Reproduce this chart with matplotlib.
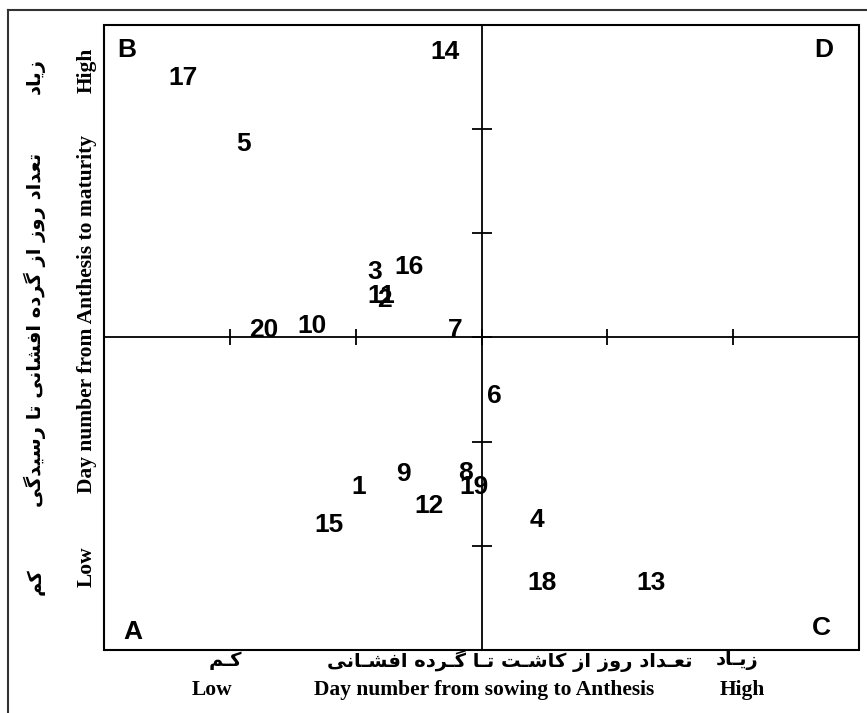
import matplotlib
matplotlib.use("Agg")
import matplotlib.pyplot as plt
from matplotlib.patches import Rectangle
from matplotlib.lines import Line2D

# genotype numbers and their scores (x: sowing->anthesis, y: anthesis->maturity)
genotypes = ["17", "5", "14", "3", "16", "11", "2", "20", "10", "7",
             "6", "9", "8", "19", "1", "12", "15", "4", "18", "13"]
x_vals = [-2.37, -1.89, -0.29, -0.85, -0.58, -0.80, -0.77, -1.73, -1.35, -0.21,
          0.10, -0.62, -0.13, -0.06, -0.98, -0.42, -1.21, 0.44, 0.48, 1.35]
y_vals = [2.49, 1.86, 2.74, 0.63, 0.68, 0.40, 0.36, 0.07, 0.11, 0.07,
          -0.56, -1.31, -1.30, -1.44, -1.44, -1.62, -1.80, -1.75, -2.36, -2.36]

quadrants = ["B", "D", "A", "C"]
quad_x = [-2.82, 2.72, -2.77, 2.70]
quad_y = [2.76, 2.76, -2.83, -2.79]

tick_pos = [-2, -1, 0, 1, 2]

# persian letter forms: isolated, final, initial, medial (None = no left join)
FORMS = {
    "\u0627": ("\uFE8D", "\uFE8E", None, None),
    "\u062A": ("\uFE95", "\uFE96", "\uFE97", "\uFE98"),
    "\u0639": ("\uFEC9", "\uFECA", "\uFECB", "\uFECC"),
    "\u062F": ("\uFEA9", "\uFEAA", None, None),
    "\u0631": ("\uFEAD", "\uFEAE", None, None),
    "\u0632": ("\uFEAF", "\uFEB0", None, None),
    "\u0648": ("\uFEED", "\uFEEE", None, None),
    "\u0633": ("\uFEB1", "\uFEB2", "\uFEB3", "\uFEB4"),
    "\u0634": ("\uFEB5", "\uFEB6", "\uFEB7", "\uFEB8"),
    "\u0641": ("\uFED1", "\uFED2", "\uFED3", "\uFED4"),
    "\u0646": ("\uFEE5", "\uFEE6", "\uFEE7", "\uFEE8"),
    "\u0645": ("\uFEE1", "\uFEE2", "\uFEE3", "\uFEE4"),
    "\u0647": ("\uFEE9", "\uFEEA", "\uFEEB", "\uFEEC"),
    "\u06A9": ("\uFB8E", "\uFB8F", "\uFB90", "\uFB91"),
    "\u06AF": ("\uFB92", "\uFB93", "\uFB94", "\uFB95"),
    "\u06CC": ("\uFBFC", "\uFBFD", "\uFBFE", "\uFBFF"),
    "\u0640": ("\u0640", "\u0640", "\u0640", "\u0640"),
}


def joins_left(ch):
    return ch in FORMS and FORMS[ch][2] is not None


def shape(s):
    out = []
    for i, ch in enumerate(s):
        if ch not in FORMS:
            out.append(ch)
            continue
        prev = s[i - 1] if i > 0 else ""
        nxt = s[i + 1] if i + 1 < len(s) else ""
        p = joins_left(prev)
        n = joins_left(ch) and nxt in FORMS
        iso, fin, ini, med = FORMS[ch]
        if p and n:
            out.append(med)
        elif p:
            out.append(fin)
        elif n:
            out.append(ini)
        else:
            out.append(iso)
    return "".join(reversed(out))


fa_x_low = shape("کـم")
fa_x_mid = shape("تعـداد روز از کاشـت تـا گـرده افشـانی")
fa_x_high = shape("زیـاد")
fa_y_low = shape("کم")
fa_y_mid = shape("تعداد روز از گرده افشانی تا رسیدگی")
fa_y_high = shape("زیاد")

fig = plt.figure(figsize=(8.67, 7.13), dpi=100)
ax = fig.add_axes([0.120, 0.0884, 0.871, 0.8766])
ax.set_xlim(-3, 3)
ax.set_ylim(-3, 3)

# axes through the origin
ax.spines["left"].set_position(("data", 0))
ax.spines["bottom"].set_position(("data", 0))
ax.spines["top"].set_visible(False)
ax.spines["right"].set_visible(False)
for sp in ("left", "bottom"):
    ax.spines[sp].set_linewidth(1.3)
ax.set_xticks(tick_pos)
ax.set_yticks(tick_pos)
ax.set_xticklabels([])
ax.set_yticklabels([])
ax.tick_params(axis="x", direction="inout", length=12, width=1.3)
ax.tick_params(axis="y", direction="inout", length=15, width=1.3)

# box around plot
ax.add_patch(Rectangle((0, 0), 1, 1, transform=ax.transAxes, fill=False,
                       lw=1.5, ec="black", clip_on=False))

num_font = dict(family="Liberation Sans", weight="bold", fontsize=19)
for lab, xv, yv in zip(genotypes, x_vals, y_vals):
    ax.text(xv, yv, lab, ha="center", va="center", **num_font)
for lab, xv, yv in zip(quadrants, quad_x, quad_y):
    ax.text(xv, yv, lab, ha="center", va="center", **num_font)

# outer frame (only top and left visible)
fig.add_artist(Line2D([8 / 867, 1], [1 - 10 / 713] * 2, color="#333333", lw=1.5))
fig.add_artist(Line2D([8 / 867] * 2, [0, 1 - 10 / 713], color="#333333", lw=1.5))

en = dict(family="Liberation Serif", weight="bold", fontsize=15.5)
fa = dict(family="DejaVu Sans", weight="bold", fontsize=14)

# x axis labels
fig.text(212 / 867, 1 - 690 / 713, "Low", ha="center", va="center", **en)
fig.text(484 / 867, 1 - 690 / 713, "Day number from sowing to Anthesis",
         ha="center", va="center", **en)
fig.text(742 / 867, 1 - 690 / 713, "High", ha="center", va="center", **en)
fig.text(225 / 867, 1 - 661 / 713, fa_x_low, ha="center", va="center", **fa)
fig.text(510 / 867, 1 - 661 / 713, fa_x_mid, ha="center", va="center", **fa)
fig.text(737 / 867, 1 - 661 / 713, fa_x_high, ha="center", va="center", **fa)

# y axis labels
fig.text(87 / 867, 1 - 567 / 713, "Low", ha="center", va="center", rotation=90, **en)
fig.text(87 / 867, 1 - 314 / 713, "Day number from Anthesis to maturity",
         ha="center", va="center", rotation=90, **en)
fig.text(87 / 867, 1 - 70 / 713, "High", ha="center", va="center", rotation=90, **en)
fig.text(35 / 867, 1 - 582 / 713, fa_y_low, ha="center", va="center", rotation=90, **fa)
fig.text(35 / 867, 1 - 330 / 713, fa_y_mid, ha="center", va="center", rotation=90, **fa)
fig.text(35 / 867, 1 - 76 / 713, fa_y_high, ha="center", va="center", rotation=90, **fa)

fig.savefig("out.png", dpi=100)
